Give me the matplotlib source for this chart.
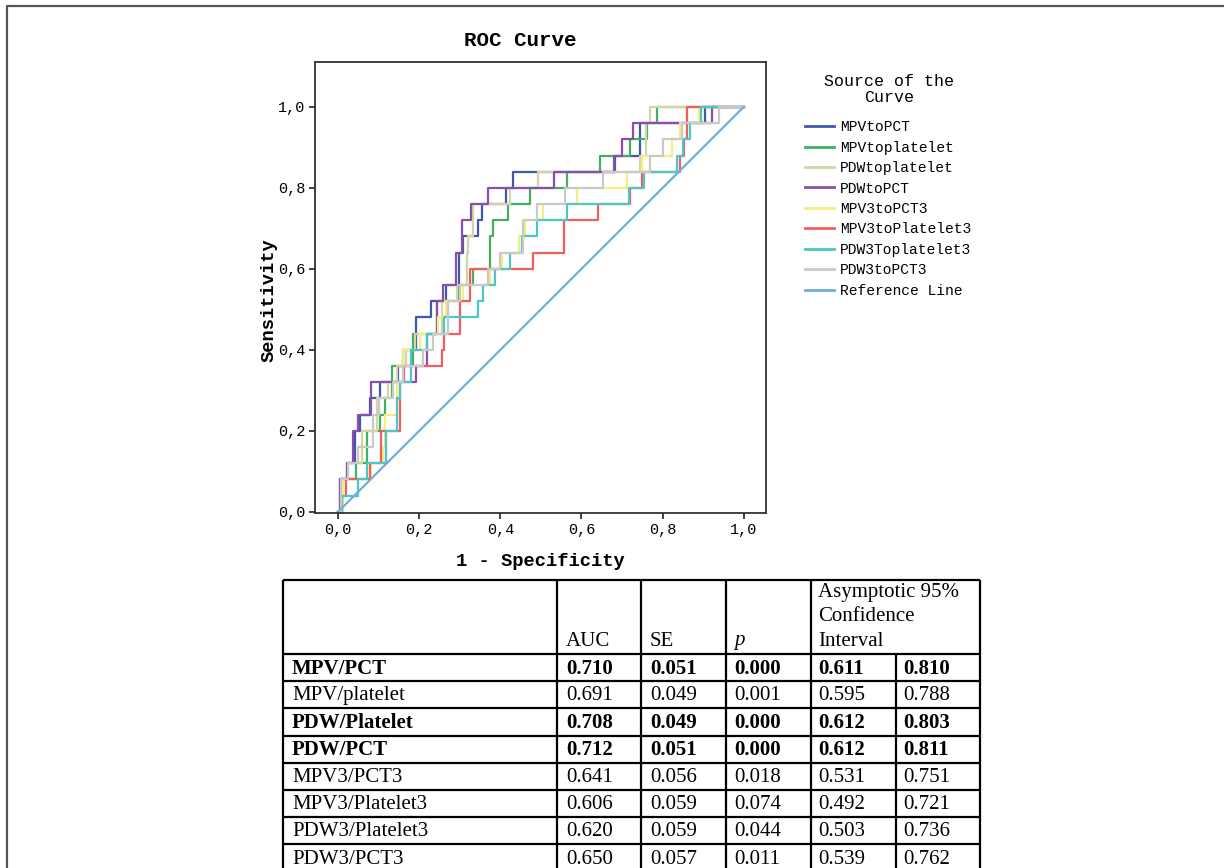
import matplotlib
matplotlib.use("Agg")
import matplotlib.pyplot as plt
from matplotlib.lines import Line2D

# ---- ROC curve data (1 - specificity at each jump, sensitivity after it) ----
series_names = ["MPVtoPCT", "MPVtoplatelet", "PDWtoplatelet", "PDWtoPCT",
                "MPV3toPCT3", "MPV3toPlatelet3", "PDW3Toplatelet3", "PDW3toPCT3"]

fpr_mpv_pct = [0, .004, .021, .041, .053, .078, .103, .148, .160, .193, .230, .267,
               .299, .307, .346, .354, .414, .432, .683, .745, .904, 1.0]
tpr_mpv_pct = [0, .08, .12, .20, .24, .28, .32, .36, .40, .48, .52, .56,
               .64, .68, .72, .76, .80, .84, .88, .96, 1.0, 1.0]

fpr_mpv_plt = [0, .008, .045, .07, .103, .115, .134, .185, .243, .298, .333, .375,
               .383, .42, .473, .564, .646, .72, .761, .786, 1.0]
tpr_mpv_plt = [0, .08, .12, .20, .24, .28, .36, .44, .52, .56, .60, .68,
               .72, .76, .80, .84, .88, .92, .96, 1.0, 1.0]

fpr_pdw_plt = [0, .008, .025, .058, .096, .123, .144, .167, .189, .255, .292, .317,
               .321, .333, .425, .494, .745, .76, .77, 1.0]
tpr_pdw_plt = [0, .08, .12, .20, .28, .32, .36, .40, .44, .52, .56, .64,
               .68, .76, .80, .84, .88, .96, 1.0, 1.0]

fpr_pdw_pct = [0, .004, .021, .037, .049, .080, .192, .218, .245, .259, .291, .305,
               .328, .369, .533, .681, .700, .726, .923, 1.0]
tpr_pdw_pct = [0, .08, .12, .20, .24, .32, .36, .44, .52, .56, .64, .72,
               .76, .80, .84, .88, .92, .96, 1.0, 1.0]

fpr_mpv3_pct3 = [0, .011, .082, .111, .115, .144, .160, .202, .247, .267, .309, .374,
                 .404, .447, .46, .506, .588, .712, .749, .823, .844, .889, 1.0]
tpr_mpv3_pct3 = [0, .08, .12, .16, .24, .32, .40, .44, .48, .52, .56, .60,
                 .64, .68, .72, .76, .80, .84, .88, .92, .96, 1.0, 1.0]

fpr_mpv3_plt3 = [0, .01, .02, .078, .105, .152, .162, .255, .26, .30, .325, .48,
                 .556, .642, .72, .749, .842, .852, .86, 1.0]
tpr_mpv3_plt3 = [0, .04, .08, .12, .20, .32, .36, .40, .44, .52, .60, .64,
                 .72, .76, .80, .84, .88, .92, 1.0, 1.0]

fpr_pdw3_plt3 = [0, .01, .049, .07, .118, .144, .152, .18, .218, .26, .346, .358,
                 .387, .424, .453, .49, .565, .716, .753, .836, .850, .868, .895, 1.0]
tpr_pdw3_plt3 = [0, .04, .08, .12, .20, .28, .32, .40, .44, .48, .52, .56,
                 .60, .64, .68, .72, .76, .80, .84, .88, .92, .96, 1.0, 1.0]

fpr_pdw3_pct3 = [0, .008, .025, .05, .085, .10, .135, .16, .21, .235, .27, .30,
                 .37, .40, .457, .49, .56, .654, .77, .802, .848, .938, 1.0]
tpr_pdw3_pct3 = [0, .08, .12, .16, .24, .28, .32, .36, .40, .44, .52, .56,
                 .60, .64, .72, .76, .80, .84, .88, .92, .96, 1.0, 1.0]

curves_fpr = [fpr_mpv_pct, fpr_mpv_plt, fpr_pdw_plt, fpr_pdw_pct,
              fpr_mpv3_pct3, fpr_mpv3_plt3, fpr_pdw3_plt3, fpr_pdw3_pct3]
curves_tpr = [tpr_mpv_pct, tpr_mpv_plt, tpr_pdw_plt, tpr_pdw_pct,
              tpr_mpv3_pct3, tpr_mpv3_plt3, tpr_pdw3_plt3, tpr_pdw3_pct3]

ref_x = [0, 1]
ref_y = [0, 1]

# ---- table data ----
row_names = ["MPV/PCT", "MPV/platelet", "PDW/Platelet", "PDW/PCT",
             "MPV3/PCT3", "MPV3/Platelet3", "PDW3/Platelet3", "PDW3/PCT3"]
auc = ["0.710", "0.691", "0.708", "0.712", "0.641", "0.606", "0.620", "0.650"]
se = ["0.051", "0.049", "0.049", "0.051", "0.056", "0.059", "0.059", "0.057"]
pval = ["0.000", "0.001", "0.000", "0.000", "0.018", "0.074", "0.044", "0.011"]
ci_low = ["0.611", "0.595", "0.612", "0.612", "0.531", "0.492", "0.503", "0.539"]
ci_high = ["0.810", "0.788", "0.803", "0.811", "0.751", "0.721", "0.736", "0.762"]
bold_rows = [True, False, True, True, False, False, False, False]

colors = ["#3F58AC", "#43B060", "#D6D3A8", "#8A4FA8",
          "#F2F07A", "#F25E5E", "#4CC6C6", "#C9C9C9"]
ref_color = "#6FAFDB"

mono = "Liberation Mono"
serif = "Liberation Serif"

W, H = 1224, 868
fig = plt.figure(figsize=(W / 100, H / 100), dpi=100)

# background axes in pixel coords for the frame and the table
bg = fig.add_axes([0, 0, 1, 1])
bg.set_xlim(0, W)
bg.set_ylim(H, 0)
bg.axis("off")

# outer frame
bg.plot([7, 7, W + 5], [H + 5, 6, 6], color="#555555", lw=1.6)

# ---- ROC axes ----
ax = fig.add_axes([315 / W, 1 - 513 / H, 451 / W, 451 / H])
for fx, ty, c, name in zip(curves_fpr, curves_tpr, colors, series_names):
    ax.step(fx, ty, where="post", color=c, lw=1.6, label=name)
ax.plot(ref_x, ref_y, color=ref_color, lw=1.6, label="Reference Line")

ax.set_xlim(-0.057, 1.055)
ax.set_ylim(-0.003, 1.111)
ticks = [0, 0.2, 0.4, 0.6, 0.8, 1.0]
ax.set_xticks(ticks)
ax.set_yticks(ticks)
ax.set_xticklabels([f"{t:.1f}".replace(".", ",") for t in ticks], family=mono, fontsize=11)
ax.set_yticklabels([f"{t:.1f}".replace(".", ",") for t in ticks], family=mono, fontsize=11)
ax.tick_params(direction="out", length=4, width=1.3, color="#333333", pad=3)
for s in ax.spines.values():
    s.set_color("#333333")
    s.set_linewidth(1.3)

fig.text(520 / W, 1 - 40 / H, "ROC Curve", family=mono, fontweight="bold",
         fontsize=15, ha="center", va="center")
fig.text(540 / W, 1 - 562 / H, "1 - Specificity", family=mono, fontweight="bold",
         fontsize=13.5, ha="center", va="center")
fig.text(269 / W, 1 - 300 / H, "Sensitivity", family=mono, fontweight="bold",
         fontsize=13.5, ha="center", va="center", rotation=90)

# legend (title drawn as centred text above the entries)
fig.text(889 / W, 1 - 82 / H, "Source of the", family=mono, fontsize=12,
         ha="center", va="center")
fig.text(889 / W, 1 - 98 / H, "Curve", family=mono, fontsize=12,
         ha="center", va="center")
handles = [Line2D([], [], color=c, lw=2) for c in colors] + [Line2D([], [], color=ref_color, lw=2)]
labels = series_names + ["Reference Line"]
fig.legend(handles, labels, loc="upper left", bbox_to_anchor=(798 / W, 1 - 113 / H),
           frameon=False, prop={"family": mono, "size": 10.5},
           handlelength=2.0, handletextpad=0.4, labelspacing=0.44, borderpad=0)

# ---- table ----
col_x = [283, 557, 641, 726, 811, 896, 980]
top = 580
head_bot = 654
row_h = 27.2
line_kw = dict(color="black", lw=1.6, solid_capstyle="butt")

bg.plot([col_x[0], col_x[-1]], [top, top], **line_kw)
n_lines = len(row_names) + 1
for i in range(n_lines):
    y = head_bot + i * row_h
    bg.plot([col_x[0], col_x[-1]], [y, y], **line_kw)
for cx in [283, 557, 641, 726, 811, 980]:
    bg.plot([cx, cx], [top, H + 5], **line_kw)
bg.plot([896, 896], [head_bot, H + 5], **line_kw)

fs = 15
bg.text(566, 641, "AUC", family=serif, fontsize=fs, va="center")
bg.text(650, 641, "SE", family=serif, fontsize=fs, va="center")
bg.text(734, 641, "p", family=serif, fontsize=fs, va="center", style="italic")
for k, line in enumerate(["Asymptotic 95%", "Confidence", "Interval"]):
    bg.text(818, 592 + k * 24.5, line, family=serif, fontsize=fs, va="center")

for i, name in enumerate(row_names):
    yc = head_bot + (i + 0.5) * row_h + 1
    fw = "bold" if bold_rows[i] else "normal"
    vals = [name, auc[i], se[i], pval[i], ci_low[i], ci_high[i]]
    xs = [292, 566, 650, 734, 818, 903]
    for xv, v in zip(xs, vals):
        bg.text(xv, yc, v, family=serif, fontsize=fs, fontweight=fw, va="center")

fig.savefig("out.png", dpi=100)
